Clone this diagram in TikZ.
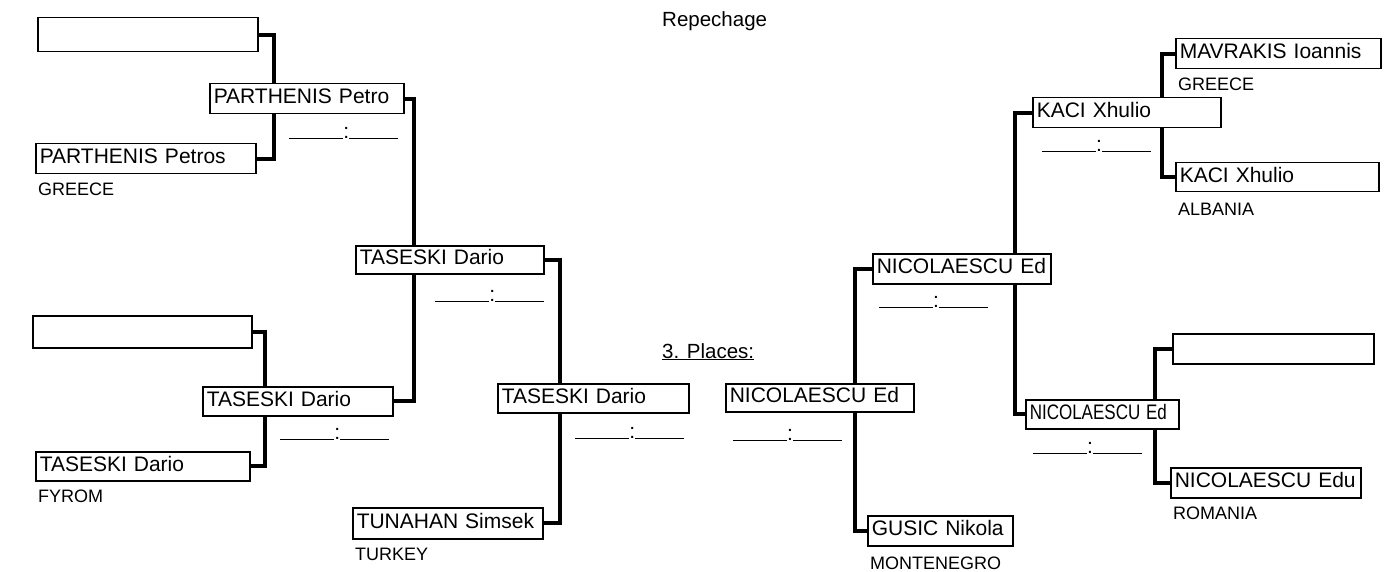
\documentclass[tikz,border=0pt]{standalone}
\usepackage{fontspec}
\setmainfont{Liberation Sans}
\usepackage{graphicx}
\usetikzlibrary{backgrounds}
\newcommand{\namefont}{\fontsize{21}{24}\selectfont}
\newcommand{\landfont}{\fontsize{18}{21}\selectfont}
\newcommand{\scoreline}{\rule{54pt}{0.9pt}:\rule{49pt}{0.9pt}}

\begin{document}
\begin{tikzpicture}[x=1pt,y=-1pt,
  namebox/.style={draw,line width=1.5pt,fill=white,anchor=north west,inner xsep=4pt,inner ysep=0pt,
    align=left,font=\namefont,execute at begin node=\strut},
  land/.style={anchor=north west,inner sep=0pt,font=\landfont},
  score/.style={inner sep=0pt,font=\namefont},
  link/.style={line width=4pt}]
  \useasboundingbox (0,0) rectangle (1386,572);

  \node[anchor=base west,inner sep=0pt,font=\fontsize{20.5}{24}\selectfont] (rep) at (662,27) {Repechage};
  \node[anchor=base west,inner sep=0pt,font=\fontsize{20.5}{24}\selectfont] (plc) at (662,358) {\underline{3. Places:}};

  \node[namebox,text width=212pt,minimum height=34pt] (b1) at (37,17) {};
  \node[namebox,text width=212pt,minimum height=30pt] (b2) at (35,143) {PARTHENIS Petros};
  \node[namebox,text width=211pt,minimum height=32pt] (b3) at (32,315) {};
  \node[namebox,text width=206pt,minimum height=29pt] (b4) at (35,451) {TASESKI Dario};
  \node[namebox,text width=186pt,minimum height=30pt] (r2a) at (209,83) {PARTHENIS Petro};
  \node[namebox,text width=182pt,minimum height=29pt] (r2b) at (202,386) {TASESKI Dario};
  \node[namebox,text width=180pt,minimum height=28pt] (r3) at (355,245) {TASESKI Dario};
  \node[namebox,text width=183pt,minimum height=29pt] (r4) at (497,383) {TASESKI Dario};
  \node[namebox,text width=182pt,minimum height=31pt] (tun) at (352,507) {TUNAHAN Simsek};

  \node[namebox,text width=180pt,minimum height=28pt] (nc) at (725,383) {NICOLAESCU Ed};
  \node[namebox,text width=137pt,minimum height=30pt] (gus) at (867,515) {GUSIC Nikola};
  \node[namebox,text width=170pt,minimum height=30pt] (nu) at (872,253) {NICOLAESCU Ed};
  \node[namebox,text width=180pt,minimum height=30pt] (kr) at (1032,97) {KACI Xhulio};
  \node[namebox,text width=145pt,minimum height=29pt] (nl) at (1025,399) {\scalebox{0.81}[1]{NICOLAESCU Ed}};
  \node[namebox,text width=197pt,minimum height=30pt] (mav) at (1175,38) {MAVRAKIS Ioannis};
  \node[namebox,text width=195pt,minimum height=29pt] (kb) at (1175,162) {KACI Xhulio};
  \node[namebox,text width=193pt,minimum height=30pt] (emp) at (1172,333) {};
  \node[namebox,text width=182pt,minimum height=30pt] (edu) at (1170,467) {NICOLAESCU Edu};

  \node[land] (gb2) at ([xshift=3pt,yshift=-8pt]b2.south west) {GREECE};
  \node[land] (gb4) at ([xshift=3pt,yshift=-8pt]b4.south west) {FYROM};
  \node[land] (gtun) at ([xshift=3pt,yshift=-8pt]tun.south west) {TURKEY};
  \node[land] (ggus) at ([xshift=3pt,yshift=-10pt]gus.south west) {MONTENEGRO};
  \node[land] (gmav) at ([xshift=3pt,yshift=-8pt]mav.south west) {GREECE};
  \node[land] (gkb) at ([xshift=3pt,yshift=-10pt]kb.south west) {ALBANIA};
  \node[land] (gedu) at ([xshift=3pt,yshift=-8pt]edu.south west) {ROMANIA};

  \node[score,anchor=base east] (s2a) at ([xshift=-6pt,yshift=-24pt]r2a.south east) {\scoreline};
  \node[score,anchor=base east] (s2b) at ([xshift=-4pt,yshift=-23pt]r2b.south east) {\scoreline};
  \node[score,anchor=base east] (s3) at ([xshift=0pt,yshift=-27pt]r3.south east) {\scoreline};
  \node[score,anchor=base east] (s4) at ([xshift=-5pt,yshift=-25pt]r4.south east) {\scoreline};
  \node[score,anchor=base west] (snc) at ([xshift=8pt,yshift=-28pt]nc.south west) {\scoreline};
  \node[score,anchor=base west] (snu) at ([xshift=7pt,yshift=-23pt]nu.south west) {\scoreline};
  \node[score,anchor=base west] (skr) at ([xshift=10pt,yshift=-23pt]kr.south west) {\scoreline};
  \node[score,anchor=base west] (snl) at ([xshift=8pt,yshift=-24pt]nl.south west) {\scoreline};

  \begin{scope}[on background layer]
    \draw[link] (b1.east) -- ++(15,0) |- (b2.east);
    \draw[link] (b3.east) -- ++(12,0) |- (b4.east);
    \draw[link] (r2a.east) -- ++(9,0) |- (r2b.east);
    \draw[link] (r3.east) -- ++(15,0) |- (tun.east);
    \draw[link] (nu.west) -- ++(-17,0) |- (gus.west);
    \draw[link] (kr.west) -- ++(-17,0) |- (nl.west);
    \draw[link] (mav.west) -- ++(-13,0) |- (kb.west);
    \draw[link] (emp.west) -- ++(-17,0) |- (edu.west);
  \end{scope}
\end{tikzpicture}
\end{document}
